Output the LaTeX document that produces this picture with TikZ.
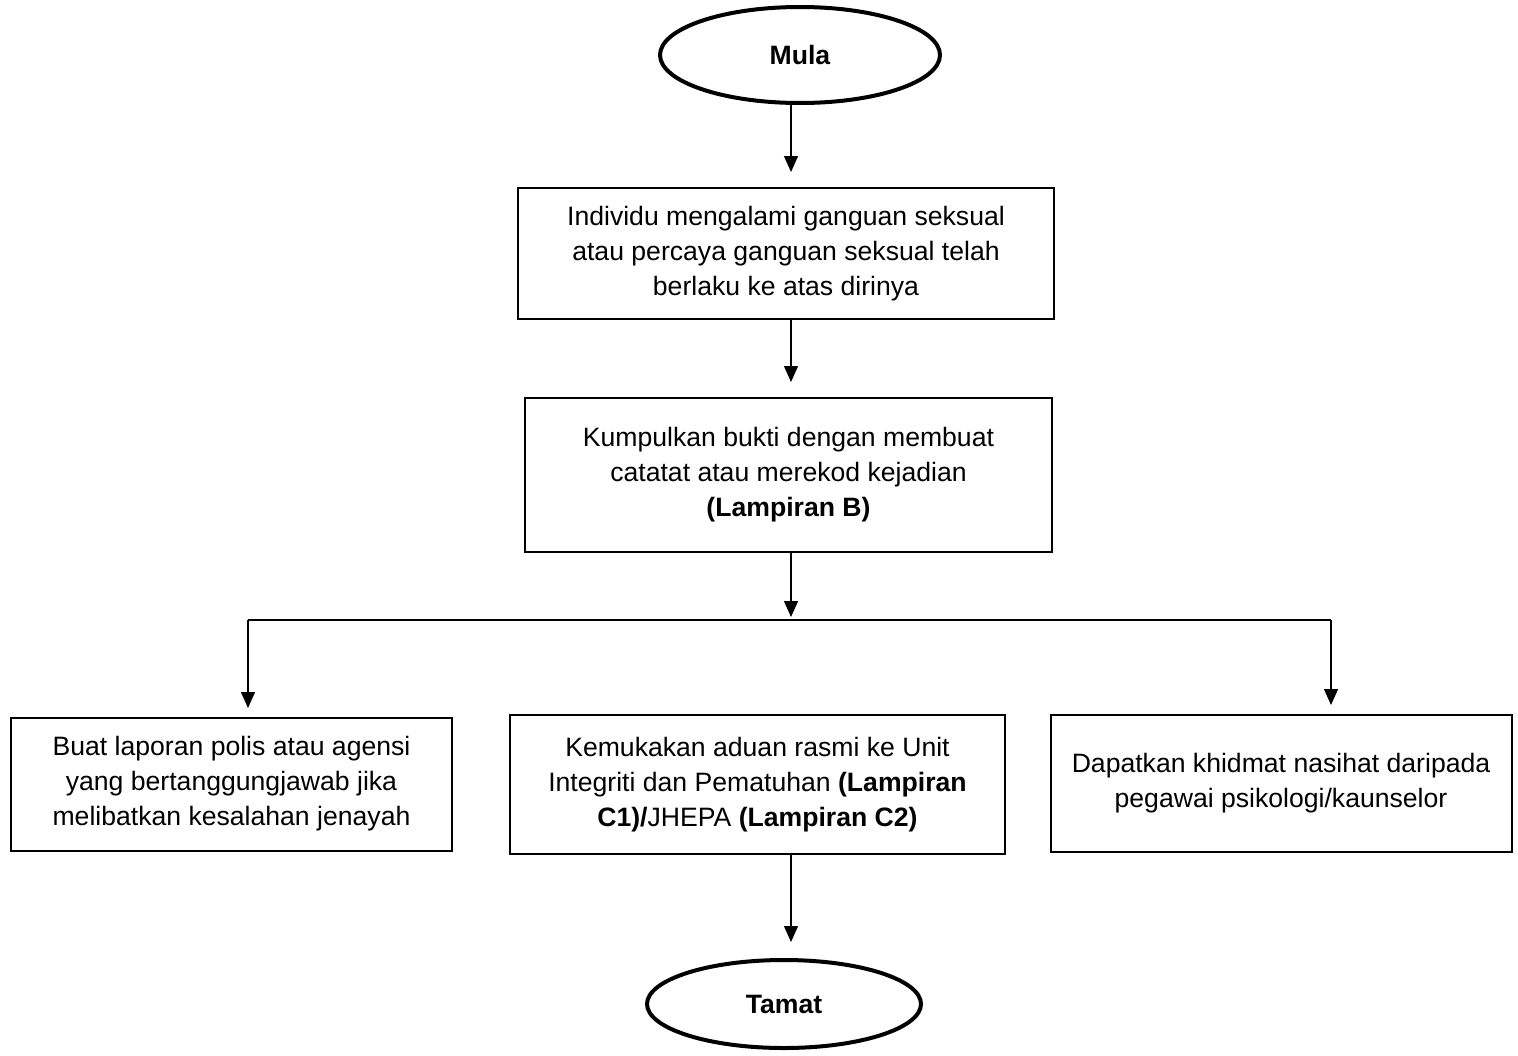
\documentclass[tikz,border=0pt]{standalone}
\usepackage{fontspec}
\setmainfont{Liberation Sans}
\usetikzlibrary{shapes.geometric,arrows.meta}
\begin{document}
\begin{tikzpicture}[x=1pt,y=-1pt,
  every node/.style={font=\fontsize{26.6pt}{35pt}\selectfont},
  term/.style={ellipse,draw,line width=4pt,inner sep=0pt},
  procbox/.style={rectangle,draw,line width=2pt,inner sep=0pt,align=center},
  arr/.style={line width=1.3pt,-{Triangle[width=14pt,length=16pt]}},
  ln/.style={line width=1.3pt}]
\useasboundingbox (0,0) rectangle (1518,1055);
\node[term,minimum width=280pt,minimum height=96pt] (mula) at (800,55) {\textbf{Mula}};
\node[procbox,minimum width=536pt,minimum height=131pt] (b1) at (786,253.5)
  {Individu mengalami ganguan seksual\\atau percaya ganguan seksual telah\\berlaku ke atas dirinya};
\node[procbox,minimum width=527pt,minimum height=154pt] (b2) at (788.5,475)
  {Kumpulkan bukti dengan membuat\\catatat atau merekod kejadian\\\textbf{(Lampiran B)}};
\node[procbox,minimum width=441pt,minimum height=133pt] (bl) at (231.5,784)
  {Buat laporan polis atau agensi\\yang bertanggungjawab jika\\melibatkan kesalahan jenayah};
\node[procbox,minimum width=495pt,minimum height=139pt] (bm) at (757.5,784.5)
  {Kemukakan aduan rasmi ke Unit\\Integriti dan Pematuhan \textbf{(Lampiran}\\\textbf{C1)/}JHEPA \textbf{(Lampiran C2)}};
\node[procbox,minimum width=461pt,minimum height=137pt] (br) at (1281,783)
  {Dapatkan khidmat nasihat daripada\\pegawai psikologi/kaunselor};
\node[term,minimum width=274pt,minimum height=88pt] (tamat) at (784,1004) {\textbf{Tamat}};

\coordinate (t1) at (791,172);
\coordinate (t2) at (791,382);
\coordinate (t3) at (791,617);
\coordinate (hl) at (248,620);
\coordinate (hr) at (1331,620);
\coordinate (tl) at (248,708);
\coordinate (tr) at (1331,705);
\coordinate (t4) at (791,942);

\draw[arr] (t1 |- mula.south) -- (t1);
\draw[arr] (t2 |- b1.south) -- (t2);
\draw[arr] (t3 |- b2.south) -- (t3);
\draw[ln] (hl) -- (hr);
\draw[arr] (hl) -- (tl);
\draw[arr] (hr) -- (tr);
\draw[arr] (t4 |- bm.south) -- (t4);
\end{tikzpicture}
\end{document}
